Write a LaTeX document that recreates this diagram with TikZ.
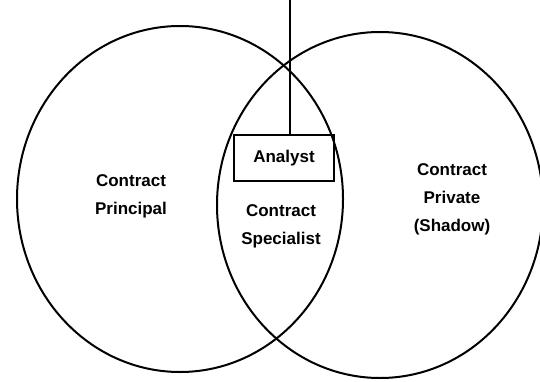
\documentclass[tikz,border=0pt]{standalone}
\usepackage{fontspec}
\setmainfont{Liberation Sans}
\usetikzlibrary{positioning,calc,shapes.geometric}

\begin{document}
\begin{tikzpicture}[x=1pt,y=-1pt,
  setshape/.style={draw,ellipse,line width=2pt,minimum width=326pt,minimum height=346pt,inner sep=0pt},
  label/.style={align=center,font=\fontsize{17}{28}\selectfont\bfseries},
  tagbox/.style={draw,line width=2pt,minimum width=100pt,minimum height=46pt,font=\fontsize{17}{20}\selectfont\bfseries},
]
\useasboundingbox (0,0) rectangle (540,382);
\node[setshape] (left) at (180,199) {};
\node[setshape] (right) at (380,205) {};
\node[label] (lefttext) at (131,196) {Contract\\Principal};
\node[label] (midtext) at (281,226) {Contract\\Specialist};
\node[label] (righttext) at (452,199) {Contract\\Private\\(Shadow)};
\node[tagbox] (analyst) at (284,158) {Analyst};
\coordinate (top) at (290,0);
\draw[line width=2pt] (top) -- (top |- analyst.north);
\end{tikzpicture}
\end{document}
